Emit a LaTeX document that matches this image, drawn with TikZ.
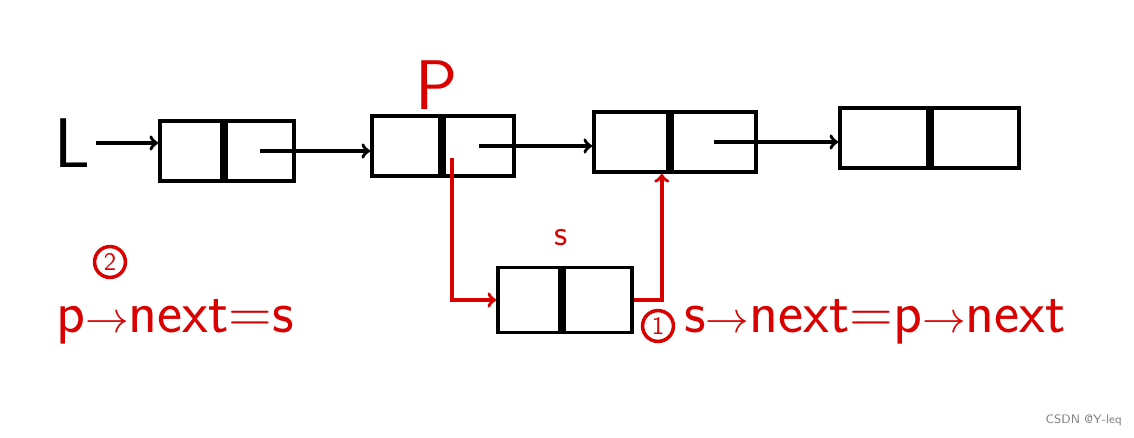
\documentclass[tikz,border=0pt]{standalone}
\usetikzlibrary{positioning}
\begin{document}
\begin{tikzpicture}[x=0.02cm,y=-0.02cm,
	cell/.style={draw, line width=2.2pt, minimum height=1.2cm, inner sep=0pt},
	arr/.style={->, line width=2pt},
	rarr/.style={->, line width=2pt, red!85!black},
	rtext/.style={red!85!black, font=\huge\sffamily},
	num/.style={draw=red!85!black, line width=2pt, circle, inner sep=2pt, text=red!85!black, font=\Large\sffamily}]
	\useasboundingbox (0,0) rectangle (1134,438);
	\node[font=\fontsize{40}{40}\sffamily] at (72,143) (L) {L};
	% list
	\node[cell, minimum width=1.24cm] at (191,151) (a1) {};
	\node[cell, minimum width=1.36cm, right=0pt of a1] (a2) {};
	\node[cell, minimum width=1.36cm] at (406,146) (b1) {};
	\node[cell, minimum width=1.4cm, right=0pt of b1] (b2) {};
	\node[cell, minimum width=1.48cm] at (631,142) (c1) {};
	\node[cell, minimum width=1.68cm, right=0pt of c1] (c2) {};
	\node[cell, minimum width=1.76cm] at (884,138) (d1) {};
	\node[cell, minimum width=1.74cm, right=0pt of d1] (d2) {};
	% new node
	\node[cell, minimum width=1.24cm, minimum height=1.3cm] at (529,300) (s1) {};
	\node[cell, minimum width=1.36cm, minimum height=1.3cm, right=0pt of s1] (s2) {};
	\node[rtext, font=\fontsize{40}{40}\sffamily] at (437,85) (p) {P};
	\node[rtext] at (561,238) (s) {s};
	\node[num] at (110,262) (two) {2};
	\node[rtext, font=\fontsize{34}{34}\sffamily, anchor=west] at (50,322) (op2) {p$\to$next=s};
	\node[num] at (658,326) (one) {1};
	\node[rtext, font=\fontsize{34}{34}\sffamily, anchor=west] at (678,322) (op1) {s$\to$next=p$\to$next};
	\node[gray, font=\scriptsize\sffamily, anchor=east] at (1128,420) (wm) {CSDN @Y-leq};
	% links
	\draw[arr] (L) -- (L -| a1.west);
	\draw[arr] (a2.center) -- (a2.center -| b1.west);
	\draw[arr] (b2.center) -- (b2.center -| c1.west);
	\draw[arr] (c2.center) -- (c2.center -| d1.west);
	\draw[rarr] (b1.east) ++(10,12) coordinate (q) -- (q |- s1.west) -- (s1.west);
	\draw[rarr] (s2.east) -- ++(28,0) coordinate (r) -- (r |- c1.south east);
\end{tikzpicture}
\end{document}
